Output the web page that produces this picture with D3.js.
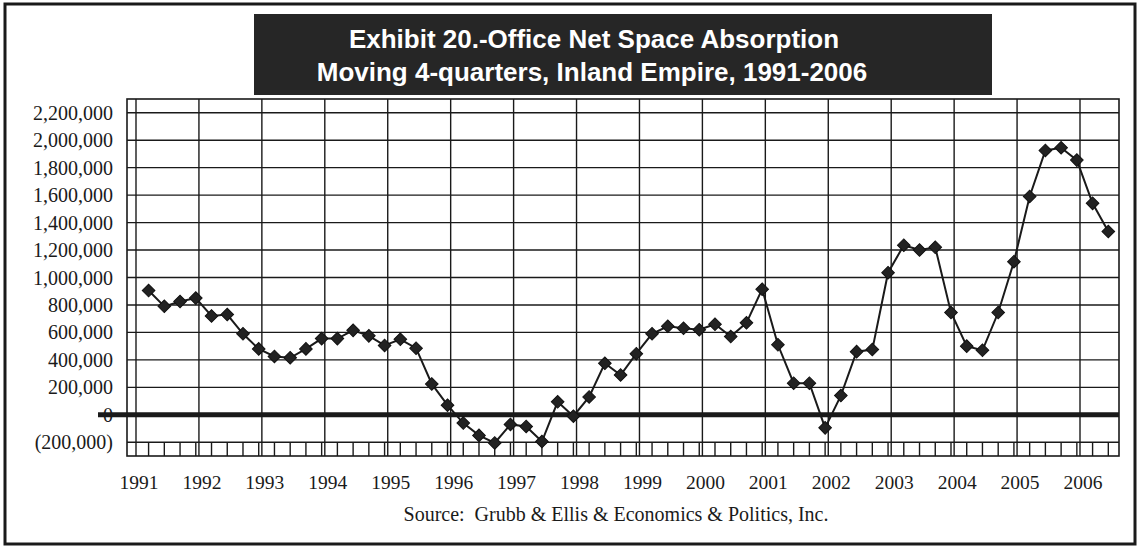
<!DOCTYPE html>
<html>
<head>
<meta charset="utf-8">
<script src="https://cdn.jsdelivr.net/npm/d3@7"></script>
<style>
  html, body { margin: 0; padding: 0; background: #ffffff; }
  svg { display: block; }
  .note { white-space: pre; }
</style>
</head>
<body>
<svg id="chart" width="1137" height="548"></svg>
<script>
// ---- Data -------------------------------------------------------------
const titleLines = [
  "Exhibit 20.-Office Net Space Absorption",
  "Moving 4-quarters, Inland Empire, 1991-2006"
];
const sourceNote = "Source:  Grubb & Ellis & Economics & Politics, Inc.";

const yearLabels = ["1991", "1992", "1993", "1994", "1995", "1996", "1997", "1998",
                    "1999", "2000", "2001", "2002", "2003", "2004", "2005", "2006"];

const yTicks = [-200000, 0, 200000, 400000, 600000, 800000, 1000000, 1200000,
                1400000, 1600000, 1800000, 2000000, 2200000];

// Moving 4-quarter office net absorption (sq. ft.), one value per quarter
const absorption = [
   905000,  790000,  825000,  850000,  720000,  730000,  590000,  480000,
   425000,  415000,  480000,  555000,  555000,  615000,  575000,  505000,
   550000,  485000,  225000,   70000,  -60000, -150000, -205000,  -70000,
   -85000, -195000,   95000,  -10000,  130000,  375000,  290000,  445000,
   590000,  645000,  630000,  620000,  660000,  570000,  670000,  915000,
   510000,  230000,  230000,  -95000,  140000,  460000,  475000, 1035000,
  1235000, 1200000, 1220000,  745000,  500000,  470000,  745000, 1115000,
  1590000, 1925000, 1945000, 1855000, 1540000, 1335000
];

// ---- Layout -----------------------------------------------------------
const svg = d3.select("#chart");
const plot = { left: 127, right: 1119, top: 99, bottom: 456 };
const firstYear = +yearLabels[0];
const lastYear = +yearLabels[yearLabels.length - 1];

const x = d3.scaleLinear().domain([firstYear, lastYear]).range([136, 1080]);
const y = d3.scaleLinear().domain([-300000, 2300000]).range([plot.bottom, plot.top]);

// position of each quarterly observation on the time axis
const quarterPos = i => firstYear + (i + 0.8) / 4;
const points = absorption.map((v, i) => ({ t: quarterPos(i), v }));

const ink = "#1a1a1a";
const serif = "'Liberation Serif', 'Times New Roman', serif";
const sans = "'Liberation Sans', Arial, sans-serif";

// Outer frame
svg.append("rect")
  .attr("x", 5).attr("y", 4).attr("width", 1130).attr("height", 540)
  .attr("fill", "none").attr("stroke", ink).attr("stroke-width", 3);

// Title banner
svg.append("rect")
  .attr("x", 254).attr("y", 14).attr("width", 738).attr("height", 81)
  .attr("fill", "#262626");
svg.selectAll("text.title")
  .data(titleLines)
  .join("text")
  .attr("class", "title")
  .attr("x", (d, i) => i === 0 ? 594 : 592)
  .attr("y", (d, i) => i === 0 ? 48 : 81)
  .attr("text-anchor", "middle")
  .attr("fill", "#ffffff")
  .attr("font-family", sans)
  .attr("font-weight", "bold")
  .attr("font-size", 26)
  .text(d => d);

// Horizontal gridlines
const g = svg.append("g");
g.selectAll("line.hgrid")
  .data(yTicks)
  .join("line")
  .attr("class", "hgrid")
  .attr("x1", plot.left).attr("x2", plot.right)
  .attr("y1", d => y(d)).attr("y2", d => y(d))
  .attr("stroke", ink).attr("stroke-width", 1.4);

// Vertical year gridlines
g.selectAll("line.vgrid")
  .data(yearLabels)
  .join("line")
  .attr("class", "vgrid")
  .attr("x1", d => x(+d)).attr("x2", d => x(+d))
  .attr("y1", plot.top).attr("y2", plot.bottom)
  .attr("stroke", ink).attr("stroke-width", 1.4);

// Quarter tick marks along the bottom strip
g.selectAll("line.qtick")
  .data(points)
  .join("line")
  .attr("class", "qtick")
  .attr("x1", d => x(d.t)).attr("x2", d => x(d.t))
  .attr("y1", y(-200000)).attr("y2", plot.bottom)
  .attr("stroke", ink).attr("stroke-width", 1.4);

// Plot frame
svg.append("rect")
  .attr("x", plot.left).attr("y", plot.top)
  .attr("width", plot.right - plot.left).attr("height", plot.bottom - plot.top)
  .attr("fill", "none").attr("stroke", ink).attr("stroke-width", 1.6);

// Y axis labels
const fmt = d3.format(",");
svg.selectAll("text.ylab")
  .data(yTicks)
  .join("text")
  .attr("class", "ylab")
  .attr("x", 113)
  .attr("y", d => y(d))
  .attr("dy", "0.35em")
  .attr("text-anchor", "end")
  .attr("font-family", serif)
  .attr("font-size", 20)
  .attr("fill", ink)
  .text(d => d < 0 ? "(" + fmt(-d) + ")" : fmt(d));

// Heavy zero line
svg.append("line")
  .attr("x1", 98).attr("x2", plot.right)
  .attr("y1", y(0)).attr("y2", y(0))
  .attr("stroke", ink).attr("stroke-width", 5);

// X axis year labels
svg.selectAll("text.xlab")
  .data(yearLabels)
  .join("text")
  .attr("class", "xlab")
  .attr("x", d => x(+d) + 3)
  .attr("y", 489)
  .attr("text-anchor", "middle")
  .attr("font-family", serif)
  .attr("font-size", 19.5)
  .attr("fill", ink)
  .text(d => d);

// Source note
svg.append("text")
  .attr("class", "note")
  .attr("x", 616).attr("y", 521)
  .attr("text-anchor", "middle")
  .attr("font-family", serif)
  .attr("font-size", 20)
  .attr("fill", ink)
  .text(sourceNote);

// Series line and diamond markers
const line = d3.line().x(d => x(d.t)).y(d => y(d.v));
svg.append("path")
  .datum(points)
  .attr("d", line)
  .attr("fill", "none")
  .attr("stroke", ink)
  .attr("stroke-width", 2);

const diamond = d3.symbol().type(d3.symbolSquare).size(80);
svg.selectAll("path.marker")
  .data(points)
  .join("path")
  .attr("class", "marker")
  .attr("d", diamond)
  .attr("transform", d => `translate(${x(d.t)},${y(d.v)}) rotate(45)`)
  .attr("fill", "#222222")
  .attr("stroke", "#111111")
  .attr("stroke-width", 1);
</script>
</body>
</html>
